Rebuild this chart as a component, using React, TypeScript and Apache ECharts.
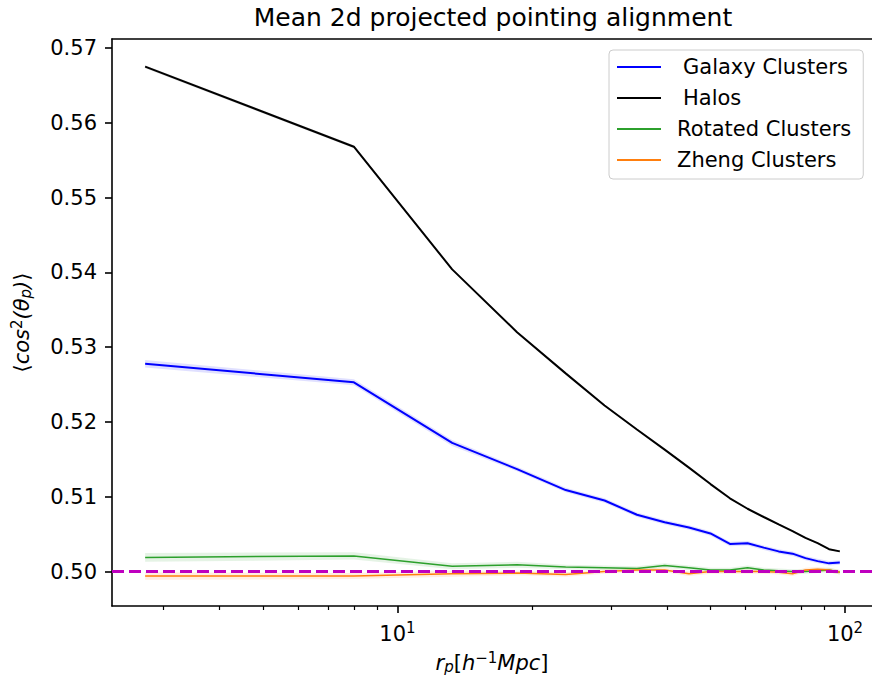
import React, { useEffect, useRef } from "react";
import * as echarts from "echarts";

// Projected separation bins (h^-1 Mpc)
const rp = [2.73, 7.99, 13.25, 18.5, 23.76, 29.02, 34.28, 39.54, 44.8, 50.05, 55.31, 60.57, 65.83, 71.08, 76.34, 81.6, 86.86, 92.12, 97.37];

const galaxyClusters = [0.5278, 0.5253, 0.5172, 0.5137, 0.5109, 0.5095, 0.5076, 0.5066, 0.5059, 0.5051, 0.5037, 0.5038, 0.5032, 0.5027, 0.5024, 0.5018, 0.5014, 0.5011, 0.5012];
const galaxyErr = [0.0005, 0.0004, 0.0004, 0.0003, 0.0003, 0.0003, 0.0003, 0.0003, 0.0003, 0.0003, 0.0003, 0.0003, 0.0003, 0.0003, 0.0003, 0.0003, 0.0003, 0.0003, 0.0003];

const halos = [0.5675, 0.5568, 0.5404, 0.532, 0.5265, 0.5222, 0.519, 0.5163, 0.5139, 0.5117, 0.5098, 0.5084, 0.5073, 0.5063, 0.5054, 0.5045, 0.5038, 0.503, 0.5027];
const halosErr = [0.0002, 0.0002, 0.0001, 0.0001, 0.0001, 0.0001, 0.0001, 0.0001, 0.0001, 0.0001, 0.0001, 0.0001, 0.0001, 0.0001, 0.0001, 0.0001, 0.0001, 0.0001, 0.0001];

const rotatedClusters = [0.5019, 0.5021, 0.5007, 0.5009, 0.5006, 0.5005, 0.5004, 0.5008, 0.5005, 0.5002, 0.5002, 0.5005, 0.5002, 0.5001, 0.5, 0.5, 0.5001, 0.5002, 0.4999];
const rotatedErr = [0.0006, 0.0005, 0.0004, 0.0004, 0.0003, 0.0003, 0.0003, 0.0003, 0.0003, 0.0003, 0.0003, 0.0003, 0.0003, 0.0003, 0.0003, 0.0003, 0.0003, 0.0003, 0.0003];

const zhengClusters = [0.4994, 0.4994, 0.4997, 0.4998, 0.4996, 0.5, 0.5002, 0.5002, 0.4997, 0.5, 0.5, 0.5, 0.5, 0.4999, 0.4997, 0.5002, 0.5003, 0.5002, 0.4999];
const zhengErr = [0.0005, 0.0004, 0.0004, 0.0003, 0.0003, 0.0003, 0.0003, 0.0003, 0.0003, 0.0003, 0.0003, 0.0003, 0.0003, 0.0003, 0.0003, 0.0003, 0.0003, 0.0003, 0.0003];

const yTicks = [0.5, 0.51, 0.52, 0.53, 0.54, 0.55, 0.56, 0.57];
const xMajorTicks = [10, 100];
const xMinorTicks = [3, 4, 5, 6, 7, 8, 9, 20, 30, 40, 50, 60, 70, 80, 90];
const referenceLevel = 0.5;

const FONT = "DejaVu Sans";

function pairs(xs: number[], ys: number[]) {
  return xs.map((x, i) => [x, ys[i]]);
}

function band(xs: number[], ys: number[], err: number[], color: string) {
  return {
    type: "custom",
    silent: true,
    z: 1,
    clip: true,
    data: [[xs[0], ys[0]]],
    encode: { x: 0, y: 1 },
    renderItem: (_params: any, api: any) => {
      const pts: number[][] = [];
      for (let i = 0; i < xs.length; i++) pts.push(api.coord([xs[i], ys[i] + err[i]]));
      for (let i = xs.length - 1; i >= 0; i--) pts.push(api.coord([xs[i], ys[i] - err[i]]));
      return { type: "polygon", shape: { points: pts }, style: { fill: color } };
    },
  };
}

function line(name: string, ys: number[], color: string, width: number, z: number) {
  return {
    name,
    type: "line",
    data: pairs(rp, ys),
    symbol: "none",
    showSymbol: false,
    z,
    lineStyle: { color, width },
    itemStyle: { color },
  };
}

export default function App() {
  const ref = useRef<HTMLDivElement>(null);
  useEffect(() => {
    if (!ref.current) return;
    const chart = echarts.init(ref.current, undefined, { renderer: "svg" });
    const xMin = 2.302;
    const xMax = 114.9;
    const yMin = 0.4954;
    const yMax = 0.5712;
    const axisCommon = {
      type: "log",
      logBase: 10,
      min: xMin,
      max: xMax,
      splitLine: { show: false },
    };
    chart.setOption({
      animation: false,
      backgroundColor: "#ffffff",
      textStyle: { fontFamily: FONT },
      grid: { left: 112, right: 0, top: 39, bottom: 78, containLabel: false },
      graphic: [
        {
          type: "text",
          x: 493,
          y: 17,
          style: {
            text: "Mean 2d projected pointing alignment",
            font: `25px '${FONT}'`,
            fill: "#000",
            textAlign: "center",
            textVerticalAlign: "middle",
          },
        },
      ],
      legend: {
        orient: "vertical",
        left: 609,
        top: 50,
        padding: [5, 12, 7, 8],
        icon: "rect",
        itemWidth: 44,
        itemHeight: 2,
        itemGap: 7,
        backgroundColor: "rgba(255,255,255,0.8)",
        borderColor: "#cccccc",
        borderWidth: 1,
        borderRadius: 4,
        textStyle: { fontFamily: FONT, fontSize: 21, color: "#000", lineHeight: 24, padding: [0, 0, 0, 11] },
        data: [
          { name: "Galaxy Clusters", textStyle: { padding: [0, 0, 0, 17] } },
          { name: "Halos", textStyle: { padding: [0, 0, 0, 17] } },
          { name: "Rotated Clusters" },
          { name: "Zheng Clusters" },
        ],
      },
      xAxis: [
        {
          ...axisCommon,
          position: "bottom",
          name: "{i|r}{u|p}{n|[}{i|h}{s|−1}{i|Mpc}{n|]}",
          nameLocation: "middle",
          nameGap: 44,
          nameTextStyle: {
            fontFamily: FONT,
            color: "#000",
            rich: {
              i: { fontFamily: FONT, fontStyle: "italic", fontSize: 21, color: "#000" },
              n: { fontFamily: FONT, fontSize: 21, color: "#000" },
              u: { fontFamily: FONT, fontStyle: "italic", fontSize: 15, color: "#000", padding: [8, 0, 0, 0] },
              s: { fontFamily: FONT, fontSize: 15, color: "#000", padding: [0, 0, 10, 0] },
            },
          },
          axisLine: { show: true, lineStyle: { color: "#000", width: 1.6 } },
          axisTick: { show: true, length: 7, lineStyle: { color: "#000", width: 1.6 }, customValues: xMajorTicks },
          axisLabel: {
            show: true,
            margin: 14,
            customValues: xMajorTicks,
            formatter: (v: number) => `{b|10}{s|${Math.round(Math.log10(v))}}`,
            rich: {
              b: { fontFamily: FONT, fontSize: 21, color: "#000" },
              s: { fontFamily: FONT, fontSize: 15, color: "#000", padding: [0, 0, 12, 0] },
            },
          },
        },
        {
          ...axisCommon,
          position: "bottom",
          axisLine: { show: false },
          axisLabel: { show: false },
          axisTick: { show: true, length: 4, lineStyle: { color: "#000", width: 1.2 }, customValues: xMinorTicks },
        },
        {
          ...axisCommon,
          position: "top",
          axisLine: { show: true, lineStyle: { color: "#000", width: 1.6 } },
          axisLabel: { show: false },
          axisTick: { show: false },
        },
      ],
      yAxis: {
        type: "value",
        min: yMin,
        max: yMax,
        splitLine: { show: false },
        name: "⟨{i|cos}{s|2}{i|(θ}{u|p}{i|)}⟩",
        nameLocation: "middle",
        nameRotate: 90,
        nameGap: 78,
        nameTextStyle: {
          fontFamily: FONT,
          fontSize: 21,
          color: "#000",
          rich: {
            i: { fontFamily: FONT, fontStyle: "italic", fontSize: 21, color: "#000" },
            u: { fontFamily: FONT, fontStyle: "italic", fontSize: 15, color: "#000", padding: [8, 0, 0, 0] },
            s: { fontFamily: FONT, fontSize: 15, color: "#000", padding: [0, 0, 10, 0] },
          },
        },
        axisLine: { show: true, lineStyle: { color: "#000", width: 1.6 } },
        axisTick: { show: true, length: 7, lineStyle: { color: "#000", width: 1.6 }, customValues: yTicks },
        axisLabel: {
          show: true,
          margin: 15,
          customValues: yTicks,
          fontFamily: FONT,
          fontSize: 21,
          color: "#000",
          formatter: (v: number) => v.toFixed(2),
        },
      },
      series: [
        band(rp, halos, halosErr, "rgba(0,0,0,0.12)"),
        band(rp, galaxyClusters, galaxyErr, "rgba(0,0,255,0.12)"),
        band(rp, rotatedClusters, rotatedErr, "rgba(44,160,44,0.12)"),
        band(rp, zhengClusters, zhengErr, "rgba(255,127,14,0.12)"),
        line("Galaxy Clusters", galaxyClusters, "#0000ff", 2, 3),
        line("Halos", halos, "#000000", 2, 3),
        line("Rotated Clusters", rotatedClusters, "#2ca02c", 1.5, 3),
        line("Zheng Clusters", zhengClusters, "#ff7f0e", 1.5, 3),
        {
          type: "line",
          name: "reference",
          data: [],
          z: 5,
          markLine: {
            silent: true,
            symbol: "none",
            label: { show: false },
            lineStyle: { color: "#bf00bf", type: [12, 5], width: 3 },
            data: [{ yAxis: referenceLevel }],
          },
        },
      ],
    });
    return () => chart.dispose();
  }, []);
  return <div ref={ref} style={{ position: "fixed", left: 0, top: 0, width: 872, height: 684 }} />;
}
